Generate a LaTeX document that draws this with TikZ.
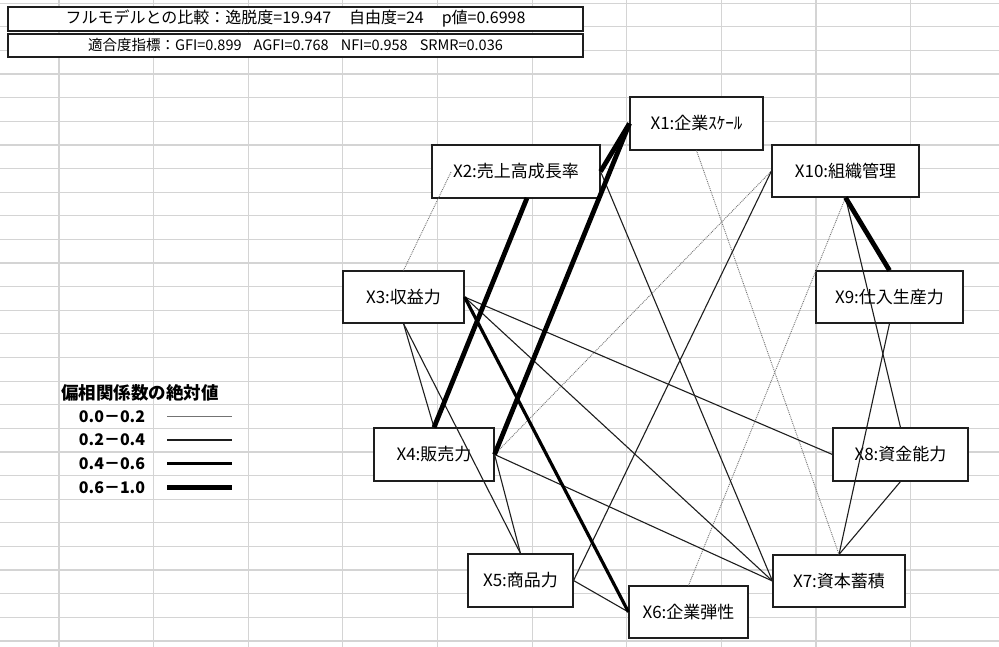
\documentclass[tikz,border=0pt]{standalone}
\usepackage{fontspec}
\setmainfont{Noto Sans CJK JP}
\definecolor{gridc}{RGB}{212,212,212}
\definecolor{edgec}{RGB}{30,30,30}
\tikzset{
  box/.style={draw=edgec, line width=1.1pt, fill=white, inner sep=0pt, align=center,
     font=\fontsize{17pt}{19pt}\selectfont},
  hdr/.style={draw=edgec, line width=1.1pt, fill=white, inner sep=0pt, minimum width=575pt},
  ezero/.style={draw=black!55, line width=0.9pt, densely dotted},
  eone/.style={draw=edgec, line width=1.1pt},
  etwo/.style={draw=black, line width=3.2pt},
  ethree/.style={draw=black, line width=4.8pt},
  legtxt/.style={font=\bfseries\fontsize{16pt}{18pt}\selectfont, inner sep=0pt}
}
\begin{document}
\begin{tikzpicture}[x=1pt,y=-1pt]
\useasboundingbox (0,0) rectangle (999,647);
\fill[white] (0,0) rectangle (999,647);
% spreadsheet grid
\foreach \k in {0,...,9} \draw[gridc, line width=1.2pt] ({59+94.62*\k},0) -- ({59+94.62*\k},647);
\foreach \k in {0,...,27} \draw[gridc, line width=1.2pt] (0,{3.2+23.62*\k}) -- (999,{3.2+23.62*\k});

% header boxes
\node[hdr, minimum height=24pt, font=\fontsize{16pt}{18pt}\selectfont] (H1) at (295.5,19)
  {フルモデルとの比較：逸脱度=19.947\hspace{18pt}自由度=24\hspace{18pt}p値=0.6998};
\node[hdr, minimum height=23pt, font=\fontsize{14.5pt}{17pt}\selectfont] (H2) at (295.5,45.5)
  {適合度指標：GFI=0.899\hspace{12pt}AGFI=0.768\hspace{12pt}NFI=0.958\hspace{12pt}SRMR=0.036};

% legend
\node[font=\bfseries\fontsize{17.5pt}{19pt}\selectfont, inner sep=0pt] (L0) at (140,392.8) {偏相関係数の絶対値};
\node[legtxt] (L1) at (112,416.5) {0.0－0.2};
\node[legtxt] (L2) at (112,440) {0.2－0.4};
\node[legtxt] (L3) at (112,463.7) {0.4－0.6};
\node[legtxt] (L4) at (112,487.3) {0.6－1.0};
\draw[draw=black!55, line width=0.9pt] (167,416.5) -- (232,416.5);
\draw[eone] (167,440) -- (232,440);
\draw[etwo] (167,463.7) -- (232,463.7);
\draw[ethree] (167,487.3) -- (232,487.3);

% variable boxes
\node[box, minimum width=133pt, minimum height=53pt] (X1) at (696.5,123.5) {X1:企業ｽｹｰﾙ};
\node[box, minimum width=168pt, minimum height=53pt] (X2) at (516,171.5) {X2:売上高成長率};
\node[box, minimum width=121pt, minimum height=52pt] (X3) at (403.5,297) {X3:収益力};
\node[box, minimum width=120pt, minimum height=53pt] (X4) at (434,454.5) {X4:販売力};
\node[box, minimum width=105pt, minimum height=53pt] (X5) at (520.5,580.5) {X5:商品力};
\node[box, minimum width=119pt, minimum height=52pt] (X6) at (688.5,612) {X6:企業弾性};
\node[box, minimum width=132pt, minimum height=52pt] (X7) at (839,581) {X7:資本蓄積};
\node[box, minimum width=135pt, minimum height=53pt] (X8) at (900.5,454.5) {X8:資金能力};
\node[box, minimum width=147pt, minimum height=52pt] (X9) at (889.5,297) {X9:仕入生産力};
\node[box, minimum width=147pt, minimum height=52pt] (X10) at (845.5,171) {X10:組織管理};

\coordinate (X2b) at (527,198);
\coordinate (X2in) at (451,172);

% connectors
\draw[ezero] (X1.south) -- (X7.north);
\draw[ezero] (X3.north) -- (X2in);
\draw[ezero] (X4.east) -- (X10.west);
\draw[ezero] (X6.north) -- (X10.south);

\draw[eone] (X2.east) -- (X7.west);
\draw[eone] (X3.south) -- (X4.north);
\draw[eone] (X3.south) -- (X5.north);
\draw[eone] (X3.east) -- (X7.west);
\draw[eone] (X3.east) -- (X8.west);
\draw[eone] (X4.east) -- (X5.north);
\draw[eone] (X4.east) -- (X7.west);
\draw[eone] (X5.east) -- (X6.west);
\draw[eone] (X5.east) -- (X10.west);
\draw[eone] (X10.south) -- (X8.north);
\draw[eone] (X9.south) -- (X7.north);
\draw[eone] (X8.south) -- (X7.north);

\draw[etwo] (X3.east) -- (X6.west);

\draw[ethree] (X1.west) -- (X2.east);
\draw[ethree] (X1.west) -- (X4.east);
\draw[ethree] (X2b) -- (X4.north);
\draw[ethree] (X10.south) -- (X9.north);
\end{tikzpicture}
\end{document}
